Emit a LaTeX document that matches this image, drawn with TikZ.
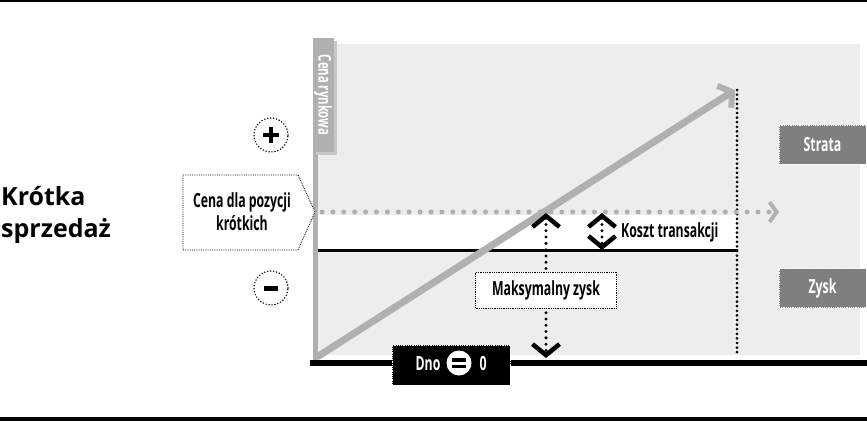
\documentclass[tikz,border=0pt]{standalone}
\usepackage{fontspec}
\setmainfont{Open Sans}
\newfontfamily\cond[FakeStretch=0.63]{Open Sans}
\usetikzlibrary{arrows.meta}
\definecolor{panel}{HTML}{EDEDED}
\definecolor{axisgrey}{HTML}{B0B0B0}
\definecolor{boxgrey}{HTML}{7F7F7F}
\begin{document}
\begin{tikzpicture}[x=1pt,y=-1pt,
  condtxt/.style={font=\cond\bfseries\fontsize{19.5}{21}\selectfont, inner sep=0pt},
  blkdots/.style={line width=3.3pt, line cap=round, dash pattern=on 0pt off 6.3pt},
  bothchev/.style={{Straight Barb[length=11pt,width=27pt,line width=4.5pt]}-{Straight Barb[length=11pt,width=27pt,line width=4.5pt]}},
  legend/.style={fill=boxgrey, draw=white, densely dotted, line width=0.8pt, minimum width=87pt, minimum height=39pt, text=white, font=\cond\bfseries\fontsize{19.5}{21}\selectfont},
  signc/.style={circle, draw, line width=1.6pt, dash pattern=on 0pt off 3pt, line cap=round, minimum size=34pt, inner sep=0pt}
]
\useasboundingbox (0,0) rectangle (867,421);
\fill[white] (0,0) rectangle (867,421);
% frame lines
\coordinate (tl) at (0,1); \coordinate (tr) at (867,1);
\coordinate (bl) at (0,419); \coordinate (br) at (867,419);
\draw[line width=2pt] (tl) -- (tr);
\draw[line width=4pt] (bl) -- (br);
% panel
\fill[panel] (318,44) rectangle (860,355);
\fill[white] (318,215) rectangle (737,249);
% vertical axis
\fill[axisgrey] (312.5,150) rectangle (318,362);
% axis label with shadow
\fill[black!22] (316,41) rectangle (337,155);
\node[fill=axisgrey, rotate=-90, minimum width=114pt, minimum height=21pt, inner sep=0pt, text=white, font=\cond\bfseries\fontsize{18}{20}\selectfont] (lbl) at (323,95) {Cena rynkowa};
% baseline
\coordinate (ax0) at (310,362.5); \coordinate (ax1) at (867,362.5);
\draw[line width=6pt] (ax0) -- (ax1);
% black cost line
\coordinate (c0) at (318,250); \coordinate (c1) at (738,250);
\draw[line width=3pt] (c0) -- (c1);
% vertical dotted limit
\coordinate (v0) at (737,90); \coordinate (v1) at (737,356);
\draw[line width=3pt, line cap=round, dash pattern=on 0pt off 4.6pt] (v0) -- (v1);
% grey price dotted arrow
\coordinate (d0) at (322,212); \coordinate (d1) at (779,212);
\draw[axisgrey, line width=5pt, line cap=round, dash pattern=on 0pt off 10.9pt, -{Straight Barb[length=7pt,width=20pt,line width=4pt]}] (d0) -- (d1);
% grey rising arrow
\coordinate (g0) at (317,357); \coordinate (g1) at (735,90);
\draw[axisgrey, line width=7pt, -{Straight Barb[length=9pt,width=26pt,line width=6pt]}] (g0) -- (g1);
% max profit arrow
\coordinate (m0) at (546,213); \coordinate (m1) at (546,358);
\draw[blkdots, bothchev] (m0) -- (m1);
\node[fill=white, draw, densely dotted, line width=0.8pt, minimum width=141pt, minimum height=36pt, condtxt] (maks) at (546,290) {Maksymalny zysk};
% transaction cost arrow
\coordinate (k0) at (602,213) ; \coordinate (k1) at (602,250);
\draw[blkdots, bothchev] (k0) -- (k1);
\node[condtxt, anchor=west] (koszt) at (621,232) {Koszt transakcji};
% legends
\node[legend] (strata) at (822.5,144.5) {Strata};
\node[legend] (zysk) at (822.5,288) {Zysk};
% sign circles
\node[signc] (plus) at (271,135) {};
\fill (plus.center) ++(-8,-2.2) rectangle ++(16,4.4);
\fill (plus.center) ++(-2.2,-8) rectangle ++(4.4,16);
\node[signc] (minus) at (271,288) {};
\fill (minus.center) ++(-7,-2.5) rectangle ++(14,5);
% price for short position box
\coordinate (p1) at (183,175); \coordinate (p2) at (298,175); \coordinate (p3) at (315,212);
\coordinate (p4) at (298,250); \coordinate (p5) at (183,250);
\draw[densely dotted, line width=0.8pt, fill=white] (p1) -- (p2) -- (p3) -- (p4) -- (p5) -- cycle;
\node[condtxt, align=center, font=\cond\bfseries\fontsize{19.5}{23}\selectfont] (cena) at (242,212) {Cena dla pozycji\\krótkich};
% Dno box
\node[fill=black, draw=white, densely dotted, line width=0.8pt, minimum width=118pt, minimum height=40pt] (dno) at (451,365) {};
\node[condtxt, text=white] (dnot) at (428,364) {Dno};
\node[circle, fill=white, minimum size=25pt, inner sep=0pt] (eq) at (459,363) {};
\fill (eq.center) ++(-7,-5) rectangle ++(14,3.5);
\fill (eq.center) ++(-7,1.5) rectangle ++(14,3.5);
\node[condtxt, text=white] (zero) at (483,364) {0};
% title
\node[anchor=base west, inner sep=0pt, font=\fontsize{25}{25}\selectfont\bfseries] (t1) at (1,205) {Krótka};
\node[anchor=base west, inner sep=0pt, font=\fontsize{25}{25}\selectfont\bfseries] (t2) at (1,237) {sprzedaż};
\end{tikzpicture}
\end{document}
